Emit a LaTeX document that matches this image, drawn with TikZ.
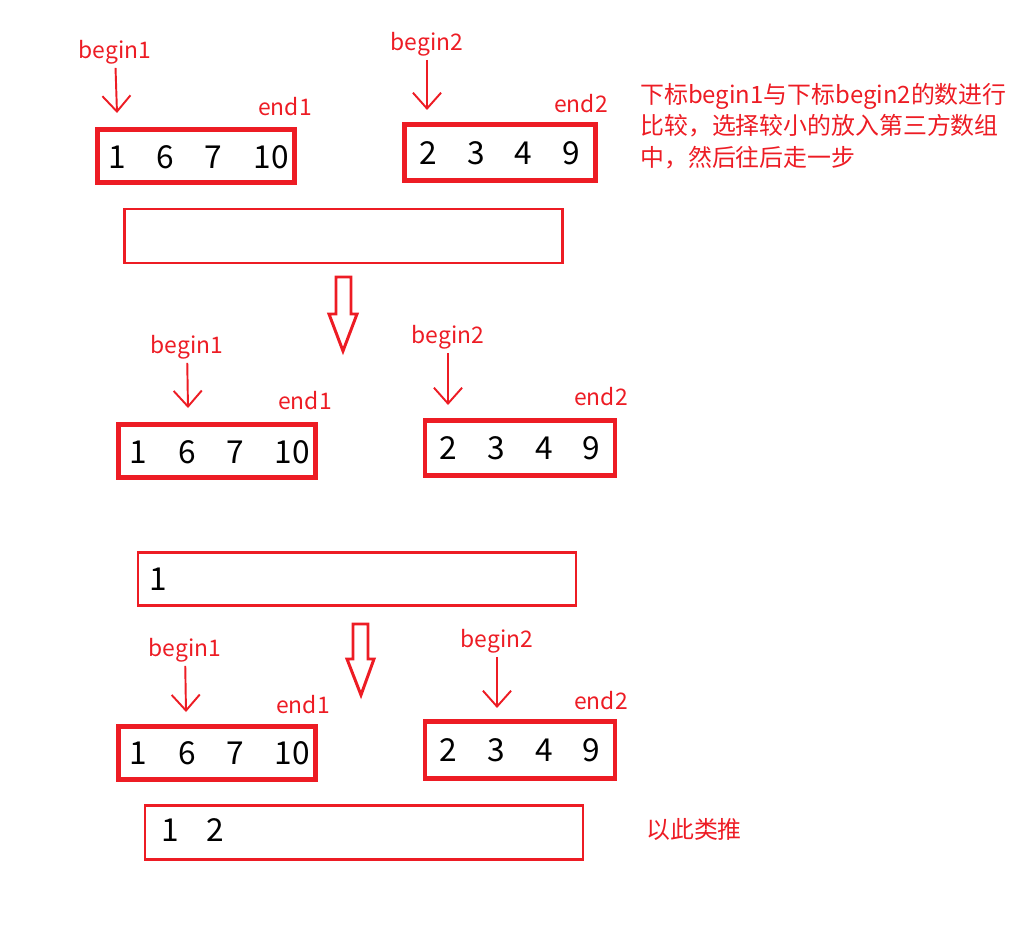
\documentclass[tikz,border=0pt]{standalone}
\usepackage{fontspec}
\setmainfont{Noto Sans CJK SC}
\usetikzlibrary{arrows.meta,positioning}
\definecolor{mred}{RGB}{237,28,36}

\begin{document}
\begin{tikzpicture}[
    x=0.02cm, y=-0.02cm,
    arrbox/.style={rectangle, draw=mred, line width=2.8pt, minimum width=3.94cm, minimum height=1.07cm, inner sep=0pt},
    resbox/.style={rectangle, draw=mred, line width=1.5pt, minimum width=8.76cm, minimum height=1.08cm, inner sep=0pt},
    num/.style={font=\fontsize{18}{20}\selectfont, text=black, inner sep=0pt},
    lab/.style={font=\fontsize{13}{15}\selectfont, text=mred, inner sep=2pt},
    note/.style={font=\fontsize{13.6}{17.9}\selectfont, text=mred, align=left, inner sep=0pt},
    ptr/.style={draw=mred, line width=1.1pt, -{Straight Barb[length=9pt,width=16pt]}},
    hollow/.style={draw=mred, line width=1.7pt, line join=miter}
]
    \useasboundingbox (0,0) rectangle (1019,926);

    % Step 1
    \node[arrbox] (a1) at (196,156) {};
    \node[arrbox, minimum width=3.82cm, minimum height=1.12cm] (b1) at (500,152.5) {};
    \node[resbox] (r1) at (343.5,236) {};
    \foreach \v/\dx in {1/22, 6/70, 7/118, 10/176}
        \path (a1.west) ++(\dx,1) node[num] {\v};
    \foreach \v/\dx in {2/26, 3/74, 4/121, 9/169}
        \path (b1.west) ++(\dx,1) node[num] {\v};

    \node[lab] (s1) at (115,52) {begin1};
    \coordinate (t1) at (117,113);
    \draw[ptr] (s1) -- (t1);
    \node[lab] (e1) at (285,107) {end1};
    \node[lab] (s2) at (427,44) {begin2};
    \coordinate (t2) at (427,110);
    \draw[ptr] (s2) -- (t2);
    \node[lab] (e2) at (581,104) {end2};

    \node[note, anchor=north west] (txt) at (640,83) {下标begin1与下标begin2的数进行\\比较，选择较小的放入第三方数组\\中，然后往后走一步};

    \draw[hollow] (336,277) -- (351,277) -- (351,314) -- (357,314) -- (343,351) -- (329,314) -- (336,314) -- cycle;

    % Step 2
    \node[arrbox] (a2) at (217,451) {};
    \node[arrbox, minimum width=3.8cm, minimum height=1.1cm] (b2) at (520,448) {};
    \foreach \v/\dx in {1/22, 6/71, 7/119, 10/176}
        \path (a2.west) ++(\dx,1) node[num] {\v};
    \foreach \v/\dx in {2/26, 3/74, 4/122, 9/169}
        \path (b2.west) ++(\dx,0) node[num] {\v};

    \node[lab] (s3) at (187,347) {begin1};
    \coordinate (t3) at (188,408);
    \draw[ptr] (s3) -- (t3);
    \node[lab] (e3) at (305,401) {end1};
    \node[lab] (s4) at (448,337) {begin2};
    \coordinate (t4) at (448,405);
    \draw[ptr] (s4) -- (t4);
    \node[lab] (e4) at (601,397) {end2};

    \node[resbox, minimum height=1.06cm] (r2) at (357,579) {};
    \path (r2.west) ++(22,0) node[num] {1};

    \draw[hollow] (353,624) -- (368,624) -- (368,659) -- (374,659) -- (361,695) -- (347,659) -- (353,659) -- cycle;

    % Step 3
    \node[arrbox] (a3) at (217,753) {};
    \node[arrbox, minimum width=3.8cm, minimum height=1.14cm] (b3) at (520,750) {};
    \foreach \v/\dx in {1/22, 6/71, 7/119, 10/176}
        \path (a3.west) ++(\dx,0) node[num] {\v};
    \foreach \v/\dx in {2/26, 3/74, 4/122, 9/169}
        \path (b3.west) ++(\dx,0) node[num] {\v};

    \node[lab] (s5) at (185,650) {begin1};
    \coordinate (t5) at (186,712);
    \draw[ptr] (s5) -- (t5);
    \node[lab] (e5) at (303,705) {end1};
    \node[lab] (s6) at (497,641) {begin2};
    \coordinate (t6) at (497,708);
    \draw[ptr] (s6) -- (t6);
    \node[lab] (e6) at (601,701) {end2};

    \node[resbox] (r3) at (364,832.5) {};
    \path (r3.west) ++(27,-2) node[num] {1};
    \path (r3.west) ++(72,-2) node[num] {2};

    \node[note] (etc) at (694,829) {以此类推};
\end{tikzpicture}
\end{document}
